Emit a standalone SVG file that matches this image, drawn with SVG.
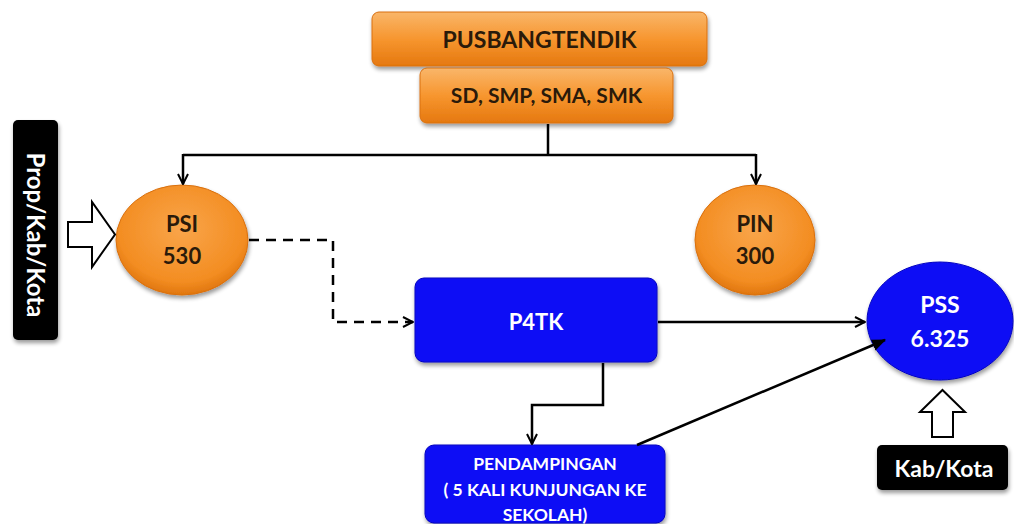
<svg xmlns="http://www.w3.org/2000/svg" width="1014" height="524" viewBox="0 0 1014 524">
<defs>
<linearGradient id="og" x1="0" y1="0" x2="0" y2="1">
<stop offset="0" stop-color="#F9B66A"/>
<stop offset="0.5" stop-color="#F7962F"/>
<stop offset="1" stop-color="#E5780F"/>
</linearGradient>
<radialGradient id="oe" cx="0.5" cy="0.4" r="0.6">
<stop offset="0" stop-color="#F9A54A"/>
<stop offset="0.8" stop-color="#F38D22"/>
<stop offset="1" stop-color="#E0760E"/>
</radialGradient>
<filter id="sh" x="-10%" y="-10%" width="130%" height="130%">
<feGaussianBlur in="SourceAlpha" stdDeviation="2"/>
<feOffset dx="1" dy="3"/>
<feComponentTransfer><feFuncA type="linear" slope="0.4"/></feComponentTransfer>
<feMerge><feMergeNode/><feMergeNode in="SourceGraphic"/></feMerge>
</filter>
<marker id="ah" viewBox="0 0 12 12" refX="11" refY="6" markerWidth="12" markerHeight="12" markerUnits="userSpaceOnUse" orient="auto">
<path d="M1,1 L11,6 L1,11" fill="none" stroke="#000" stroke-width="2"/>
</marker>
<marker id="af" viewBox="0 0 12 12" refX="11" refY="6" markerWidth="14" markerHeight="14" markerUnits="userSpaceOnUse" orient="auto">
<path d="M0,1 L12,6 L0,11 Z" fill="#000"/>
</marker>
</defs>
<style>
.t{font-family:Lato,"Open Sans","Liberation Sans",sans-serif;font-weight:bold;text-anchor:middle}
.dk{fill:#2a1a0a}
.wh{fill:#ffffff}
.ln{fill:none;stroke:#000;stroke-width:2.5}
.ob{fill:url(#og);stroke:#D9700F;stroke-width:1}
.oe{fill:url(#oe);stroke:#D9700F;stroke-width:1}
.bb{fill:#0A0AF5;stroke:#0606c0;stroke-width:1}
.blk{fill:#000}
.hol{fill:#fff;stroke:#000;stroke-width:2}
</style>
<g id="pusbangtendik">
<rect class="ob" x="372" y="12" width="335" height="54" rx="7" filter="url(#sh)"/>
<text class="t dk" x="539.5" y="47.5" font-size="23">PUSBANGTENDIK</text>
</g>
<g id="sd-smp">
<rect class="ob" x="420" y="68" width="253" height="55" rx="7" filter="url(#sh)"/>
<text class="t dk" x="546.5" y="103" font-size="21">SD, SMP, SMA, SMK</text>
</g>
<g id="psi">
<ellipse class="oe" cx="182" cy="240" rx="66" ry="55" filter="url(#sh)"/>
<text class="t dk" x="182" y="232" font-size="22">PSI</text>
<text class="t dk" x="182" y="264" font-size="22">530</text>
</g>
<g id="pin">
<ellipse class="oe" cx="755" cy="240" rx="60" ry="55" filter="url(#sh)"/>
<text class="t dk" x="755" y="232" font-size="22">PIN</text>
<text class="t dk" x="755" y="264" font-size="22">300</text>
</g>
<g id="prop-kab-kota">
<rect class="blk" x="13" y="120" width="45" height="220" rx="5" filter="url(#sh)"/>
<text class="t wh" transform="translate(27,235) rotate(90)" font-size="24">Prop/Kab/Kota</text>
</g>
<g id="p4tk">
<rect class="bb" x="415" y="278" width="242" height="84" rx="9" filter="url(#sh)"/>
<text class="t wh" x="536" y="330" font-size="22">P4TK</text>
</g>
<g id="pendampingan">
<rect class="bb" x="425" y="445" width="240" height="78" rx="9" filter="url(#sh)"/>
<text class="t wh" x="545" y="470" font-size="17.5">PENDAMPINGAN</text>
<text class="t wh" x="545" y="496" font-size="17.5">( 5 KALI KUNJUNGAN KE</text>
<text class="t wh" x="545" y="521" font-size="17.5">SEKOLAH)</text>
</g>
<g id="pss">
<ellipse class="bb" cx="940" cy="321" rx="73" ry="59" filter="url(#sh)"/>
<text class="t wh" x="940" y="313" font-size="23">PSS</text>
<text class="t wh" x="940" y="347" font-size="23">6.325</text>
</g>
<g id="kab-kota">
<rect class="blk" x="877" y="445" width="131" height="45" rx="5" filter="url(#sh)"/>
<text class="t wh" x="944" y="477" font-size="23">Kab/Kota</text>
</g>
<g id="connectors">
<path class="ln" d="M548,124 V155"/>
<path class="ln" d="M183,155 H756"/>
<path class="ln" d="M183,154 V184" marker-end="url(#ah)"/>
<path class="ln" d="M756,154 V184" marker-end="url(#ah)"/>
<path class="ln" d="M249,240 H333 V322 H413" stroke-dasharray="10,7" marker-end="url(#ah)"/>
<path class="ln" d="M658,322 H865" marker-end="url(#ah)"/>
<path class="ln" d="M603,363 V405 H532 V444" marker-end="url(#ah)"/>
<path class="ln" d="M637,445 L885,340" marker-end="url(#af)"/>
<path class="hol" d="M68,222 H92 V202 L115,234.5 L92,267 V247 H68 Z"/>
<path class="hol" d="M942.5,390 L965,412 H953 V437 H932 V412 H920 Z"/>
</g>
</svg>
